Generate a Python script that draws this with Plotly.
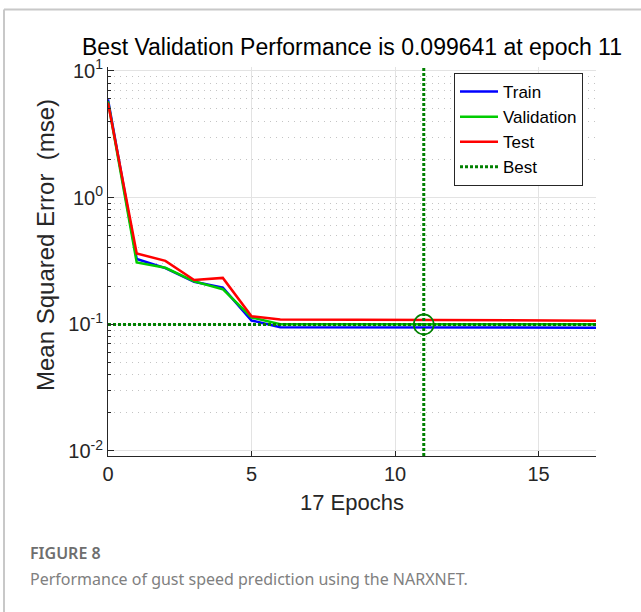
import plotly.graph_objects as go

# ---------------- data ----------------
epochs = list(range(18))
train = [5.95, 0.327, 0.277, 0.216, 0.194, 0.107, 0.0947, 0.0946, 0.0945, 0.0944,
         0.0943, 0.0942, 0.0941, 0.0940, 0.0940, 0.0939, 0.0939, 0.0938]
validation = [5.75, 0.307, 0.279, 0.218, 0.189, 0.113, 0.1001, 0.1000, 0.0999, 0.0998,
              0.0997, 0.099641, 0.0997, 0.0997, 0.0998, 0.0998, 0.0998, 0.0998]
test = [5.6, 0.362, 0.316, 0.223, 0.232, 0.1157, 0.1090, 0.1088, 0.1086, 0.1084,
        0.1082, 0.1079, 0.1077, 0.1075, 0.1072, 0.1070, 0.1068, 0.1066]
best_epoch = 11
best_value = 0.099641

y_major_vals = [0.01, 0.1, 1, 10]
y_major_text = ["10<sup>-2</sup>", "10<sup>-1</sup>", "10<sup>0</sup>", "10<sup>1</sup>"]
y_minor_vals = [k * 10.0 ** e for e in (-2, -1, 0) for k in range(2, 10)]
x_tick_vals = [0, 5, 10, 15]

title_text = "Best Validation Performance is 0.099641 at epoch 11"
xlabel = "17 Epochs"
ylabel = "Mean Squared Error  (mse)"
fig_label = "FIGURE 8"
caption = "Performance of gust speed prediction using the NARXNET."

# ---------------- layout helpers ----------------
W, H = 641, 612
ML, MR, MT, MB = 108, 45, 67, 156
PW, PH = W - ML - MR, H - MT - MB


def px_x(px):
    return (px - ML) / PW


def px_y(py):
    return (H - MB - py) / PH


FONT = "Liberation Sans, Arial, Helvetica, sans-serif"
DARK = "#262626"
GREEN_BEST = "rgb(0,128,0)"

fig = go.Figure()
fig.add_trace(go.Scatter(x=epochs, y=train, mode="lines", name="Train",
                         line=dict(color="rgb(0,0,255)", width=2.5)))
fig.add_trace(go.Scatter(x=epochs, y=validation, mode="lines", name="Validation",
                         line=dict(color="rgb(0,204,0)", width=2.5)))
fig.add_trace(go.Scatter(x=epochs, y=test, mode="lines", name="Test",
                         line=dict(color="rgb(255,0,0)", width=2.5)))
fig.add_trace(go.Scatter(x=[epochs[0], epochs[-1]], y=[best_value, best_value], mode="lines",
                         name="Best", line=dict(color=GREEN_BEST, width=3, dash="3px,2px")))
fig.add_trace(go.Scatter(x=[best_epoch], y=[best_value], mode="markers", showlegend=False,
                         marker=dict(symbol="circle-open", size=20,
                                     color=GREEN_BEST, line=dict(width=1.6, color=GREEN_BEST))))

fig.add_shape(type="line", xref="x", yref="y domain", x0=best_epoch, x1=best_epoch, y0=0, y1=1,
              line=dict(color=GREEN_BEST, width=3, dash="3px,2px"))

# frame decoration lines
fig.add_shape(type="line", xref="paper", yref="paper", x0=px_x(4), x1=px_x(W), y0=px_y(9.5), y1=px_y(9.5),
              line=dict(color="#c8c8c8", width=2))
fig.add_shape(type="line", xref="paper", yref="paper", x0=px_x(4), x1=px_x(4), y0=px_y(9.5), y1=px_y(H),
              line=dict(color="#c8c8c8", width=2))

fig.update_xaxes(range=[0, 17], tickvals=x_tick_vals, showline=True, linecolor=DARK, linewidth=1,
                 mirror=False, ticks="inside", ticklen=5, tickcolor=DARK, zeroline=False,
                 showgrid=True, gridcolor="#e3e3e3", gridwidth=1,
                 tickfont=dict(family=FONT, size=20, color=DARK))
fig.update_yaxes(type="log", range=[-2.04, 1.03], tickvals=y_major_vals, ticktext=y_major_text,
                 showline=True, linecolor=DARK, linewidth=1, mirror=False,
                 ticks="inside", ticklen=6, tickcolor=DARK, zeroline=False,
                 showgrid=True, gridcolor="#e3e3e3", gridwidth=1,
                 tickfont=dict(family=FONT, size=20, color=DARK),
                 minor=dict(tickvals=y_minor_vals, ticks="inside", ticklen=3, tickcolor=DARK,
                            showgrid=True, gridcolor="#c4c4c4", gridwidth=1, griddash="1px,5px"))

annotations = [
    dict(text=xlabel, xref="paper", yref="paper", x=0.5, y=px_y(502), xanchor="center", yanchor="middle",
         showarrow=False, font=dict(family=FONT, size=22, color=DARK)),
    dict(text=ylabel, xref="paper", yref="paper", x=px_x(45), y=px_y(245), xanchor="center", yanchor="middle",
         textangle=-90, showarrow=False, font=dict(family=FONT, size=24, color=DARK)),
    dict(text=fig_label, xref="paper", yref="paper", x=px_x(28), y=px_y(553), xanchor="left", yanchor="middle",
         showarrow=False, font=dict(family="Noto Sans, Open Sans, sans-serif", size=16, color="#6e6e6e", weight=600)),
    dict(text=caption, xref="paper", yref="paper", x=px_x(28), y=px_y(579), xanchor="left", yanchor="middle",
         showarrow=False, font=dict(family="Noto Sans, Open Sans, sans-serif", size=16, color="#808080")),
]

fig.update_layout(
    width=W, height=H,
    margin=dict(l=ML, r=MR, t=MT, b=MB),
    paper_bgcolor="white", plot_bgcolor="white",
    title=dict(text=title_text, x=0.5, xref="paper", y=1 - 47 / H, yref="container",
               xanchor="center", yanchor="middle", font=dict(family=FONT, size=23, color="black")),
    legend=dict(x=px_x(454), y=px_y(73), xanchor="left", yanchor="top", bgcolor="white",
                bordercolor=DARK, borderwidth=1, font=dict(family=FONT, size=17, color="black"),
                tracegroupgap=0, itemwidth=38),
    annotations=annotations,
    showlegend=True,
)

fig.write_html("out.html")
